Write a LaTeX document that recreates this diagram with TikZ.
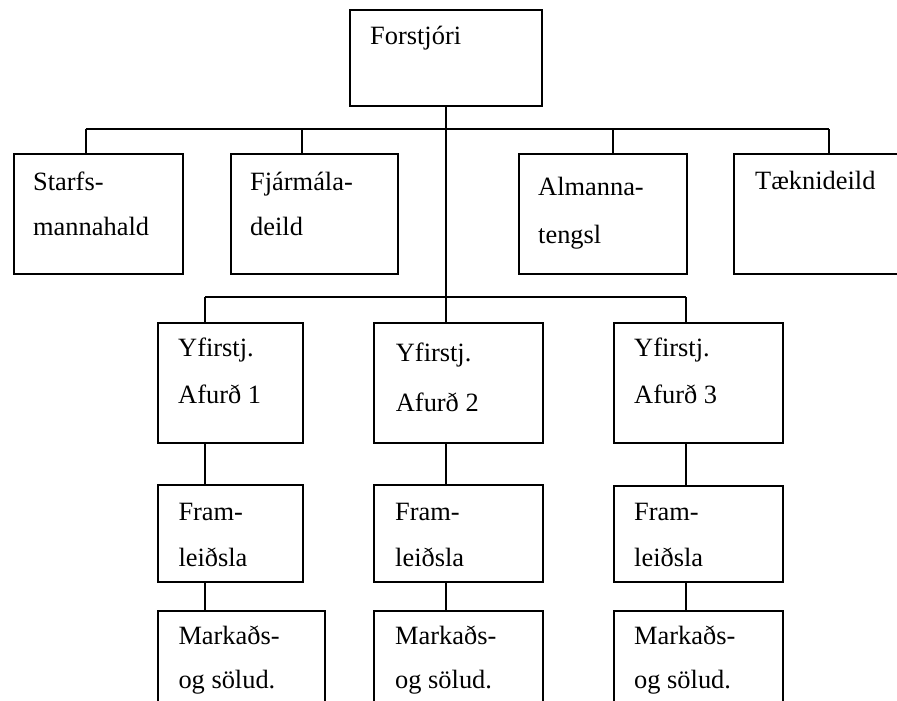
\documentclass[tikz,border=0pt]{standalone}
\usepackage{fontspec}
\setmainfont{Liberation Serif}
\begin{document}
\begin{tikzpicture}[x=1pt,y=-1pt,
  box/.style={draw=black,line width=2pt,rectangle,inner sep=0pt,anchor=north west},
  lbl/.style={anchor=base west,inner sep=0pt,font=\fontsize{26.4}{30}\selectfont},
  conn/.style={draw=black,line width=2pt}]
\useasboundingbox (0,0) rectangle (897,701);
\clip (0,0) rectangle (897,701);
% boxes
\node[box,minimum width=192.4pt,minimum height=95.7pt] (F) at (349,9.3) {};
\node[box,minimum width=168.4pt,minimum height=120.3pt] (S1) at (13.3,152.7) {};
\node[box,minimum width=167.6pt,minimum height=120.3pt] (S2) at (229.7,152.7) {};
\node[box,minimum width=168.3pt,minimum height=120.6pt] (S3) at (517.7,152.7) {};
\node[box,minimum width=168pt,minimum height=120.3pt] (S4) at (733.3,152.7) {};
\node[box,minimum width=145pt,minimum height=120.3pt] (A1) at (157.3,321.7) {};
\node[box,minimum width=168.4pt,minimum height=120.3pt] (A2) at (373.3,321.7) {};
\node[box,minimum width=168.4pt,minimum height=120pt] (A3) at (613.3,321.7) {};
\node[box,minimum width=144.7pt,minimum height=96.4pt] (P1) at (157.3,484.3) {};
\node[box,minimum width=168.7pt,minimum height=96.4pt] (P2) at (373.3,484.3) {};
\node[box,minimum width=168.4pt,minimum height=95.7pt] (P3) at (613.3,485) {};
\node[box,minimum width=167pt,minimum height=120pt] (M1) at (157.3,610) {};
\node[box,minimum width=168.7pt,minimum height=120pt] (M2) at (373.3,610) {};
\node[box,minimum width=168.4pt,minimum height=120pt] (M3) at (613.3,610) {};
% labels
\node[lbl] (tF) at (370,45) {Forstjóri};
\node[lbl] (tS1a) at (33,190) {Starfs-};
\node[lbl] (tS1b) at (33,235) {mannahald};
\node[lbl] (tS2a) at (250,190) {Fjármála-};
\node[lbl] (tS2b) at (250,235) {deild};
\node[lbl] (tS3a) at (538,195) {Almanna-};
\node[lbl] (tS3b) at (538,243) {tengsl};
\node[lbl] (tS4) at (755,189) {Tæknideild};
\node[lbl] (tA1a) at (178,356.7) {Yfirstj.};
\node[lbl] (tA1b) at (178,403) {Afurð 1};
\node[lbl] (tA2a) at (395.7,361.7) {Yfirstj.};
\node[lbl] (tA2b) at (395.7,411) {Afurð 2};
\node[lbl] (tA3a) at (634,356.7) {Yfirstj.};
\node[lbl] (tA3b) at (634,403) {Afurð 3};
\node[lbl] (tP1a) at (178.3,520) {Fram-};
\node[lbl] (tP1b) at (178.3,566) {leiðsla};
\node[lbl] (tP2a) at (395,520) {Fram-};
\node[lbl] (tP2b) at (395,566) {leiðsla};
\node[lbl] (tP3a) at (634,520) {Fram-};
\node[lbl] (tP3b) at (634,566) {leiðsla};
\node[lbl] (tM1a) at (178.3,644) {Markaðs-};
\node[lbl] (tM1b) at (178.3,688) {og sölud.};
\node[lbl] (tM2a) at (395,644) {Markaðs-};
\node[lbl] (tM2b) at (395,688) {og sölud.};
\node[lbl] (tM3a) at (634,644) {Markaðs-};
\node[lbl] (tM3b) at (634,688) {og sölud.};
% junction coordinates
\coordinate (t0) at (445.7,105);
\coordinate (b1) at (85.7,129.3);
\coordinate (b2) at (301.7,129.3);
\coordinate (bt) at (445.7,129.3);
\coordinate (b3) at (613.3,129.3);
\coordinate (b4) at (829.3,129.3);
\coordinate (c1) at (205.3,297.3);
\coordinate (c2) at (445.7,297.3);
\coordinate (c3) at (686,297.3);
% connectors
\draw[conn] (b1) -- (b4);
\draw[conn] (b1) -- (b1 |- S1.north);
\draw[conn] (b2) -- (b2 |- S2.north);
\draw[conn] (b3) -- (b3 |- S3.north);
\draw[conn] (b4) -- (b4 |- S4.north);
\draw[conn] (t0 |- F.south) -- (c2 |- A2.north);
\draw[conn] (c1) -- (c3);
\draw[conn] (c1) -- (c1 |- A1.north);
\draw[conn] (c3) -- (c3 |- A3.north);
\draw[conn] (c1 |- A1.south) -- (c1 |- P1.north);
\draw[conn] (c2 |- A2.south) -- (c2 |- P2.north);
\draw[conn] (c3 |- A3.south) -- (c3 |- P3.north);
\draw[conn] (c1 |- P1.south) -- (c1 |- M1.north);
\draw[conn] (c2 |- P2.south) -- (c2 |- M2.north);
\draw[conn] (c3 |- P3.south) -- (c3 |- M3.north);
\end{tikzpicture}
\end{document}
